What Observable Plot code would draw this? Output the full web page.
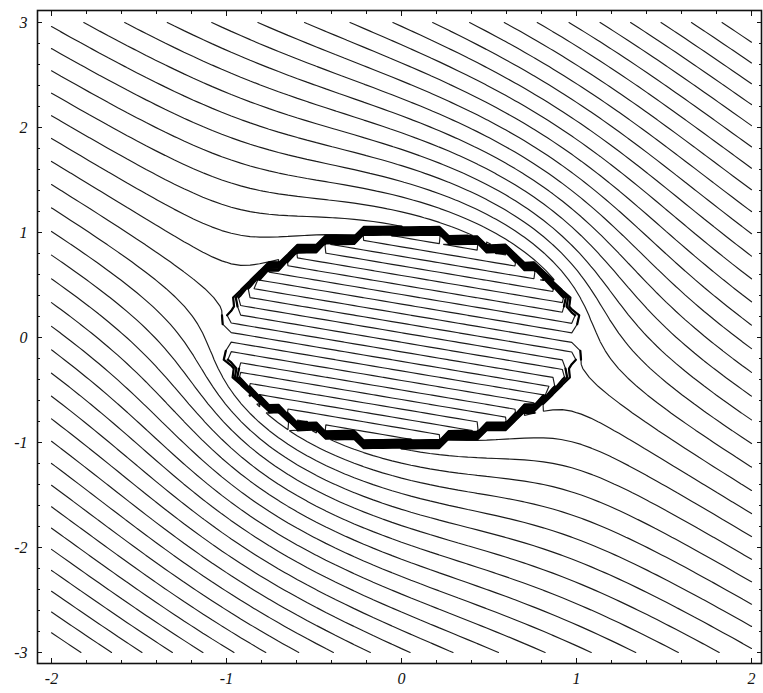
<!DOCTYPE html>
<html>
<head>
<meta charset="utf-8">
<script src="https://cdn.jsdelivr.net/npm/d3@7"></script>
<script src="https://cdn.jsdelivr.net/npm/@observablehq/plot@0.6"></script>
<style>
  html, body { margin: 0; padding: 0; background: #ffffff; }
  #chart svg { display: block; }
</style>
</head>
<body>
<div id="chart"></div>
<script>
// ---- axis values ----
const xTicks = [-2, -1, 0, 1, 2];
const yTicks = [-3, -2, -1, 0, 1, 2, 3];
const xMinor = [-1.8, -1.6, -1.4, -1.2, -0.8, -0.6, -0.4, -0.2, 0.2, 0.4, 0.6, 0.8, 1.2, 1.4, 1.6, 1.8];
const yMinor = [-2.8, -2.6, -2.4, -2.2, -1.8, -1.6, -1.4, -1.2, -0.8, -0.6, -0.4, -0.2,
                0.2, 0.4, 0.6, 0.8, 1.2, 1.4, 1.6, 1.8, 2.2, 2.4, 2.6, 2.8];

// ---- field that is contoured (stream function) ----
const xExtent = [-2, 2];
const yExtent = [-3, 3];
const farField = [1, 1];          // uniform-flow coefficients of x and y
const stretch = [2];              // anisotropy: y is scaled by 1/stretch
const exterior = [1.115, -0.203]; // complex coefficient of 1/zeta outside the inclusion
const inner = [0.62, 2.2];        // inside (r < radius) linear coefficients
const radius = [1];
const levelStep = [0.2];
const levelOffset = [0.1];
const gridSize = [75, 72];        // sampling grid (coarse, as in the original)

// ---- complex helpers ----
const cmul = (a, b) => [a[0] * b[0] - a[1] * b[1], a[0] * b[1] + a[1] * b[0]];
const cdiv = (a, b) => { const d = b[0] * b[0] + b[1] * b[1]; return [(a[0] * b[0] + a[1] * b[1]) / d, (a[1] * b[0] - a[0] * b[1]) / d]; };
const csqrt = a => { const r = Math.hypot(a[0], a[1]); const re = Math.sqrt(Math.max(0, (r + a[0]) / 2)); const im = Math.sqrt(Math.max(0, (r - a[0]) / 2)); return [re, a[1] < 0 ? -im : im]; };

const c = stretch[0];
const A = radius[0], B = radius[0] / c;
const m2 = (A * A - B * B) / 4;
const K = [farField[1] * c, farField[0]];

function psiOut(x, y) {
  const Z = [x, y / c];
  const s = csqrt([Z[0] * Z[0] - Z[1] * Z[1] - 4 * m2, 2 * Z[0] * Z[1]]);
  const z1 = [(Z[0] + s[0]) / 2, (Z[1] + s[1]) / 2];
  const z2 = [(Z[0] - s[0]) / 2, (Z[1] - s[1]) / 2];
  const zeta = Math.hypot(z1[0], z1[1]) >= Math.hypot(z2[0], z2[1]) ? z1 : z2;
  const w1 = cmul(K, zeta);
  const w2 = cdiv(exterior, zeta);
  return w1[1] + w2[1];
}

// ---- sample the field ----
const [nx, ny] = gridSize;
const sx = (xExtent[1] - xExtent[0]) / (nx - 1);
const sy = (yExtent[1] - yExtent[0]) / (ny - 1);
const values = new Float64Array(nx * ny);
const isIn = new Uint8Array(nx * ny);
for (let j = 0; j < ny; j++) {
  for (let i = 0; i < nx; i++) {
    const x = xExtent[0] + i * sx, y = yExtent[0] + j * sy;
    const inside = x * x + y * y < radius[0] * radius[0];
    isIn[j * nx + i] = inside ? 1 : 0;
    values[j * nx + i] = inside ? inner[0] * x + inner[1] * y : psiOut(x, y);
  }
}
const [vmin, vmax] = d3.extent(values);
const k0 = Math.ceil((vmin - levelOffset[0]) / levelStep[0]);
const k1 = Math.floor((vmax - levelOffset[0]) / levelStep[0]);
const levels = d3.range(k0, k1 + 1).map(k => levelOffset[0] + k * levelStep[0]);

// does a contour vertex sit on a grid edge that joins an inside and an outside sample?
const eps = 1e-9;
function onJump(p) {
  const u = p[0] - 0.5, v = p[1] - 0.5;
  if (Math.abs(v - Math.round(v)) < eps) {           // horizontal edge
    const j = Math.round(v), i = Math.min(nx - 2, Math.max(0, Math.floor(u)));
    return isIn[j * nx + i] !== isIn[j * nx + i + 1];
  }
  if (Math.abs(u - Math.round(u)) < eps) {           // vertical edge
    const i = Math.round(u), j = Math.min(ny - 2, Math.max(0, Math.floor(v)));
    return isIn[j * nx + i] !== isIn[(j + 1) * nx + i];
  }
  return false;
}

// ---- contour lines (open polylines, border segments removed) ----
const polys = d3.contours().size([nx, ny]).thresholds(levels)(values);
const segs = [];      // all contour polylines
const barSegs = [];   // parts running along the jump at the inclusion boundary
let sid = 0, bid = 0;
const onBorder = p => p[0] <= 0 || p[0] >= nx || p[1] <= 0 || p[1] >= ny;
const toData = p => [xExtent[0] + (p[0] - 0.5) * sx, yExtent[0] + (p[1] - 0.5) * sy];
for (const poly of polys) {
  for (const polygon of poly.coordinates) {
    for (const ring of polygon) {
      let cur = [], bar = [];
      const flush = () => {
        if (cur.length > 1) { sid++; for (const q of cur) segs.push({x: q[0], y: q[1], id: sid}); }
        cur = [];
      };
      const flushBar = () => {
        if (bar.length > 1) { bid++; for (const q of bar) barSegs.push({x: q[0], y: q[1], id: bid}); }
        bar = [];
      };
      for (const p of ring) {
        if (onBorder(p)) { flush(); flushBar(); continue; }
        const q = toData(p);
        cur.push(q);
        if (onJump(p)) bar.push(q); else flushBar();
      }
      flush(); flushBar();
    }
  }
}

const fmt = d => String(d);
const labelFont = {fontFamily: "'Liberation Serif', 'DejaVu Serif', serif", fontStyle: "italic", fontSize: 16};

const chart = Plot.plot({
  width: 763,
  height: 693,
  marginLeft: 37,
  marginRight: 2,
  marginTop: 10,
  marginBottom: 30,
  x: {domain: xExtent, insetLeft: 14, insetRight: 10},
  y: {domain: yExtent, insetTop: 12, insetBottom: 11},
  style: {background: "#ffffff", color: "#111"},
  marks: [
    Plot.line(segs, {x: "x", y: "y", z: "id", stroke: "#1c1c1c", strokeWidth: 1.15, strokeLinejoin: "miter"}),
    Plot.line(barSegs, {x: "x", y: "y", z: "id", stroke: "#000", strokeWidth: 2.2, strokeLinejoin: "round"}),
    Plot.frame({stroke: "#111", strokeWidth: 1.6}),
    // major ticks (inward) on all four sides
    Plot.axisX(xTicks, {anchor: "bottom", tickSize: 5, dy: -5, fill: "none", label: null}),
    Plot.axisX(xTicks, {anchor: "top", tickSize: 5, dy: 5, fill: "none", label: null}),
    Plot.axisY(yTicks, {anchor: "left", tickSize: 5, dx: 5, fill: "none", label: null}),
    Plot.axisY(yTicks, {anchor: "right", tickSize: 5, dx: -5, fill: "none", label: null}),
    // minor ticks
    Plot.axisX(xMinor, {anchor: "bottom", tickSize: 3, dy: -3, fill: "none", label: null}),
    Plot.axisX(xMinor, {anchor: "top", tickSize: 3, dy: 3, fill: "none", label: null}),
    Plot.axisY(yMinor, {anchor: "left", tickSize: 3, dx: 3, fill: "none", label: null}),
    Plot.axisY(yMinor, {anchor: "right", tickSize: 3, dx: -3, fill: "none", label: null}),
    // tick labels
    Plot.axisX(xTicks, {anchor: "bottom", tickSize: 0, tickPadding: 9, tickFormat: fmt, label: null, ...labelFont}),
    Plot.axisY(yTicks, {anchor: "left", tickSize: 0, tickPadding: 10, tickFormat: fmt, label: null, ...labelFont})
  ]
});
document.getElementById("chart").appendChild(chart);
</script>
</body>
</html>
